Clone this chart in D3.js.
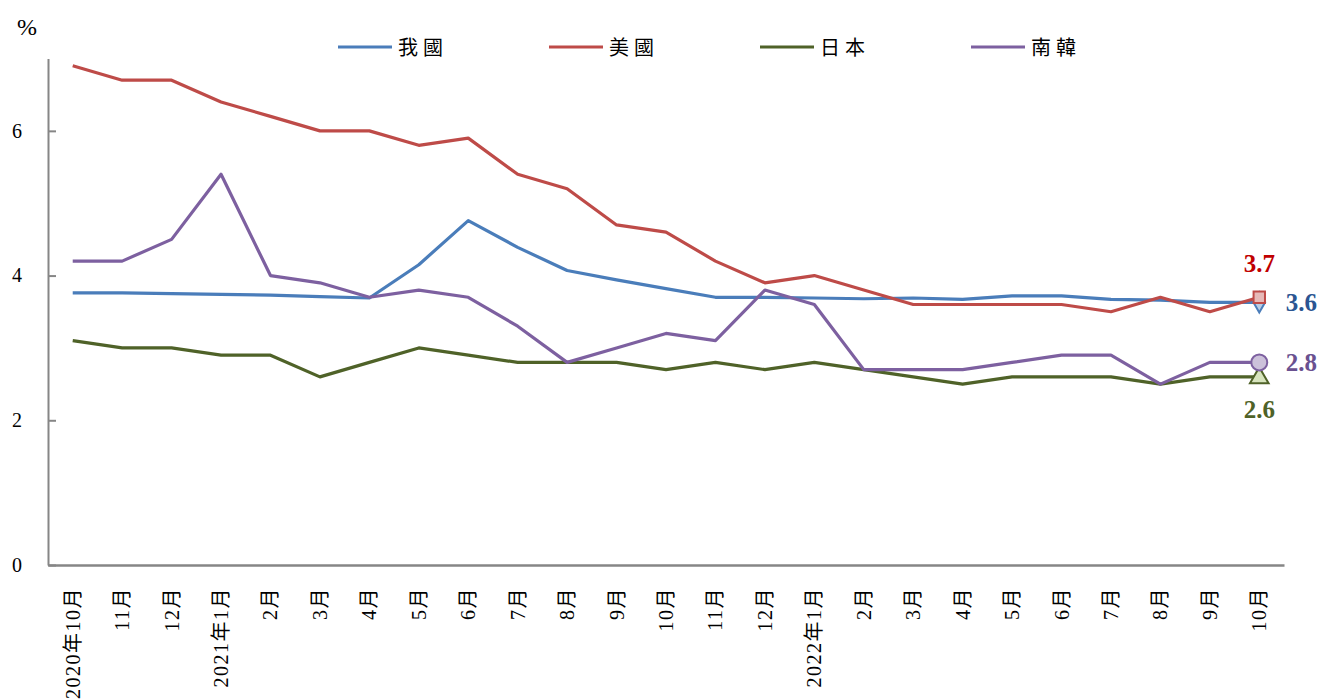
<!DOCTYPE html>
<html>
<head>
<meta charset="utf-8">
<script src="https://cdn.jsdelivr.net/npm/d3@7"></script>
<style>
  body { margin: 0; background: #fff; }
  svg text { font-family: "Liberation Serif", "Noto Sans CJK TC", serif; fill: #000; }
</style>
</head>
<body>
<svg id="chart" width="1322" height="700"></svg>
<script>
// Monthly unemployment rates, Oct 2020 - Oct 2022
const months = ["2020年10月", "11月", "12月", "2021年1月", "2月", "3月", "4月", "5月", "6月", "7月",
    "8月", "9月", "10月", "11月 ", "12月 ", "2022年1月", "2月 ", "3月 ", "4月 ", "5月 ", "6月 ",
    "7月 ", "8月 ", "9月 ", "10月 "];
const taiwan = [3.76, 3.76, 3.75, 3.74, 3.73, 3.71, 3.69, 4.15, 4.76, 4.39, 4.07, 3.94, 3.82,
    3.70, 3.70, 3.69, 3.68, 3.69, 3.67, 3.72, 3.72, 3.67, 3.66, 3.63, 3.63];
const usa = [6.9, 6.7, 6.7, 6.4, 6.2, 6.0, 6.0, 5.8, 5.9, 5.4, 5.2, 4.7, 4.6, 4.2, 3.9, 4.0,
    3.8, 3.6, 3.6, 3.6, 3.6, 3.5, 3.7, 3.5, 3.7];
const japan = [3.1, 3.0, 3.0, 2.9, 2.9, 2.6, 2.8, 3.0, 2.9, 2.8, 2.8, 2.8, 2.7, 2.8, 2.7, 2.8,
    2.7, 2.6, 2.5, 2.6, 2.6, 2.6, 2.5, 2.6, 2.6];
const korea = [4.2, 4.2, 4.5, 5.4, 4.0, 3.9, 3.7, 3.8, 3.7, 3.3, 2.8, 3.0, 3.2, 3.1, 3.8, 3.6,
    2.7, 2.7, 2.7, 2.8, 2.9, 2.9, 2.5, 2.8, 2.8];
const seriesNames = ["我國", "美國", "日本", "南韓"];
const yTicks = [0, 2, 4, 6];
const endLabels = ["3.6", "3.7", "2.6", "2.8"];

const series = [
    {name: seriesNames[0], values: taiwan, color: "#4A7DBA", fill: "#B9CDE5", marker: "diamond", labelColor: "#2B5592", lx: 42, ly: 9},
    {name: seriesNames[1], values: usa, color: "#BE4B48", fill: "#E6B9B8", marker: "square", labelColor: "#C00000", lx: 0, ly: -25},
    {name: seriesNames[2], values: japan, color: "#4F6228", fill: "#D7E4BD", marker: "triangle", labelColor: "#4F6228", lx: 0, ly: 41},
    {name: seriesNames[3], values: korea, color: "#7D60A0", fill: "#CCC1DA", marker: "circle", labelColor: "#6A5190", lx: 42, ly: 9}
];

const svg = d3.select("#chart");

const x = d3.scaleBand().domain(months).range([48, 1284]).padding(0);
const cx = d => x(d) + x.bandwidth() / 2;
const y = d3.scaleLinear().domain([0, 7]).range([565, 58.5]);

// Y axis
const yAxis = svg.append("g")
    .attr("transform", "translate(48,0)")
    .call(d3.axisLeft(y).tickValues(yTicks).tickFormat(d3.format("d"))
        .tickSizeInner(-8).tickSizeOuter(0).tickPadding(26));
yAxis.select(".domain").attr("stroke", "#868686").attr("stroke-width", 2);
yAxis.selectAll(".tick line").attr("stroke", "#868686").attr("stroke-width", 2);
yAxis.selectAll(".tick text").style("font-size", "20px");

// X axis
const xAxis = svg.append("g")
    .attr("transform", "translate(0,565)")
    .call(d3.axisBottom(x).tickSize(0).tickSizeOuter(0));
xAxis.select(".domain").attr("stroke", "#868686").attr("stroke-width", 2.5);
xAxis.selectAll(".tick text")
    .style("font-size", "20px")
    .style("letter-spacing", "1.5px")
    .attr("text-anchor", "end")
    .attr("transform", "rotate(-90)")
    .attr("x", -22)
    .attr("y", 0)
    .attr("dy", "0.35em")
    .text(d => d.trim());

svg.append("text").attr("x", 17).attr("y", 35).style("font-size", "24px").text("%");

// Lines
const line = d3.line().x((d, i) => cx(months[i])).y(d => y(d));
series.forEach(s => {
    svg.append("path")
        .datum(s.values)
        .attr("fill", "none")
        .attr("stroke", s.color)
        .attr("stroke-width", 3.2)
        .attr("stroke-linejoin", "round")
        .attr("d", line);
});

// End markers
const lastIdx = months.length - 1;
const symbolType = {diamond: d3.symbolDiamond, square: d3.symbolSquare, triangle: d3.symbolTriangle, circle: d3.symbolCircle};
const symbolSize = {diamond: 120, square: 130, triangle: 150, circle: 200};
[series[0], series[2], series[1], series[3]].forEach(s => {
    const px = cx(months[lastIdx]);
    const py = y(s.values[lastIdx]);
    svg.append("path")
        .attr("d", d3.symbol().type(symbolType[s.marker]).size(symbolSize[s.marker])())
        .attr("transform", `translate(${px},${py + (s.marker === "triangle" ? 1 : 0)})`)
        .attr("fill", s.fill)
        .attr("stroke", s.color)
        .attr("stroke-width", 2);
});

// End labels
series.forEach((s, i) => {
    svg.append("text")
        .attr("x", cx(months[lastIdx]) + s.lx)
        .attr("y", y(s.values[lastIdx]) + s.ly)
        .attr("text-anchor", "middle")
        .style("font-size", "25px")
        .style("font-weight", "bold")
        .style("fill", s.labelColor)
        .text(endLabels[i]);
});

// Legend
const legend = svg.append("g");
series.forEach((s, i) => {
    const lx = 338 + i * 211;
    legend.append("line")
        .attr("x1", lx).attr("x2", lx + 54)
        .attr("y1", 47).attr("y2", 47)
        .attr("stroke", s.color)
        .attr("stroke-width", 3.2);
    legend.append("text")
        .attr("x", lx + 60)
        .attr("y", 55)
        .style("font-size", "20px")
        .style("letter-spacing", "5px")
        .text(s.name);
});
</script>
</body>
</html>
